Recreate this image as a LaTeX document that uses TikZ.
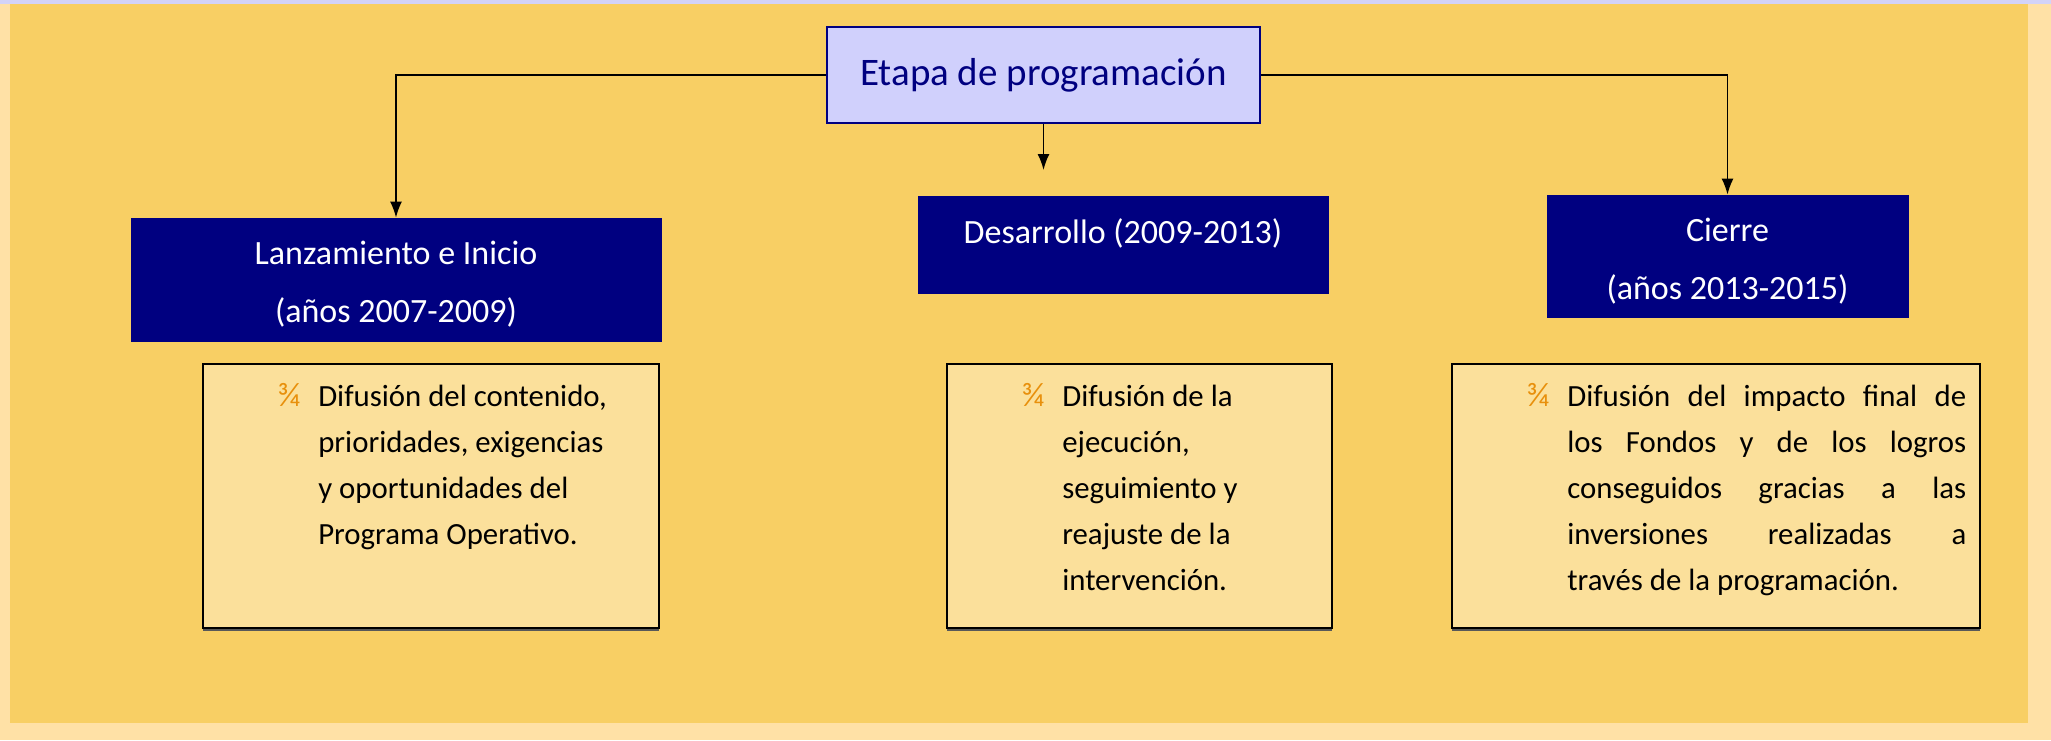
\documentclass[tikz,border=0pt]{standalone}
\usepackage{fontspec}
\setmainfont{Carlito}
\usetikzlibrary{arrows.meta,shadows}

\definecolor{outerbg}{HTML}{FFE1A6}
\definecolor{innerbg}{HTML}{F8CF64}
\definecolor{topstrip}{HTML}{D3D3F8}
\definecolor{etapafill}{HTML}{D0D0FC}
\definecolor{navy}{HTML}{000080}
\definecolor{descfill}{HTML}{FBE09B}
\definecolor{bulletorange}{HTML}{E8900C}

\tikzset{
  etapabox/.style={draw=navy, fill=etapafill, line width=1pt, text=navy, inner sep=0pt,
    font=\fontsize{19.5}{24}\selectfont},
  navybox/.style={fill=navy, draw=navy, text=white, align=center, inner sep=0pt,
    font=\fontsize{17}{28.8}\selectfont},
  descbox/.style={draw=black, line width=1.1pt, fill=descfill, inner sep=0pt,
    drop shadow={shadow xshift=0pt, shadow yshift=-1.3pt, fill=black!65, opacity=1}},
  desctext/.style={anchor=base west, inner sep=0pt, font=\fontsize{15.4}{22.9}\selectfont},
  conn/.style={line width=0.8pt, -{Latex[length=8pt,width=6pt]}}
}
\newcommand{\bul}{\leavevmode\llap{\textcolor{bulletorange}{\fontsize{17}{20}\selectfont ¾}\hspace{9pt}}}

\begin{document}
\begin{tikzpicture}[x=0.5pt, y=-0.5pt]
  \useasboundingbox (0,0) rectangle (2051,740);
  \fill[outerbg] (0,0) rectangle (2051,740);
  \fill[topstrip] (0,0) rectangle (2051,4);
  \fill[innerbg] (10,4) rectangle (2028,723);

  \node[etapabox, minimum width=216.5pt, minimum height=48pt] (etapa) at (1043.5,75) {Etapa de programación};

  \node[navybox, minimum width=265pt, minimum height=61.5pt, text height=45pt, text depth=2pt] (lanz) at (396,279.5) {Lanzamiento e Inicio\\(años 2007-2009)};
  \node[navybox, minimum width=205pt, minimum height=48.5pt, text depth=13pt] (desa) at (1123,244.5) {Desarrollo (2009-2013)};
  \node[navybox, minimum width=180.5pt, minimum height=61pt, text height=45pt, text depth=2pt] (cierre) at (1727.5,256) {Cierre\\(años 2013-2015)};

  \node[descbox, minimum width=228pt, minimum height=132pt] (lanzDesc) at (431,496) {};
  \node[descbox, minimum width=192.5pt, minimum height=132pt] (desaDesc) at (1139.5,496) {};
  \node[descbox, minimum width=264pt, minimum height=132pt] (cierreDesc) at (1716,496) {};

  \node[desctext, text width=165pt, align=flush left] (lanzTxt) at ([xshift=58pt,yshift=-22pt]lanzDesc.north west)
    {\bul Difusión del contenido,\\prioridades, exigencias\\y oportunidades del\\Programa Operativo.};
  \node[desctext, text width=125pt, align=flush left] (desaTxt) at ([xshift=58pt,yshift=-22pt]desaDesc.north west)
    {\bul Difusión de la\\ejecución,\\seguimiento y\\reajuste de la\\intervención.};
  \node[desctext, text width=199.5pt, align=justify] (cierreTxt) at ([xshift=58pt,yshift=-22pt]cierreDesc.north west)
    {\bul Difusión del impacto final de\linebreak los Fondos y de los logros\linebreak conseguidos gracias a las\linebreak inversiones realizadas a\linebreak través de la programación.};

  \coordinate (desaTip) at (1043.5,170);
  \draw[conn] (etapa.west) -| (lanz.north);
  \draw[conn] (etapa.south) -- (desaTip);
  \draw[conn] (etapa.east) -| (cierre.north);
\end{tikzpicture}
\end{document}
